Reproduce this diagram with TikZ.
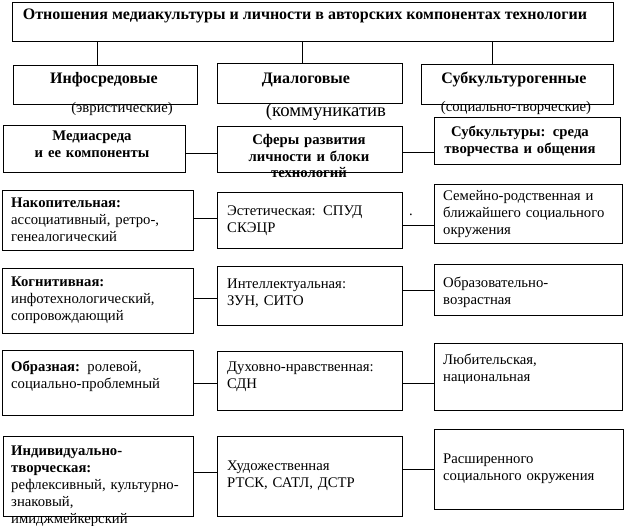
\documentclass[tikz,border=0pt]{standalone}
\usepackage{fontspec}
\setmainfont{Liberation Serif}
\tikzset{
	box/.style={draw, line width=1pt, inner sep=0pt, anchor=north west},
	head/.style={inner sep=0pt, anchor=base, align=center, font=\bfseries\fontsize{16}{19}\selectfont},
	subhead/.style={inner sep=0pt, anchor=base, align=center, text width=175pt, font=\bfseries\fontsize{14.7}{16.5}\selectfont},
	note/.style={inner sep=0pt, anchor=base, font=\fontsize{14.7}{17}\selectfont},
	body/.style={inner sep=0pt, anchor=base west, align=left, text width=#1, font=\fontsize{14.7}{17}\selectfont},
	body/.default=185pt,
	link/.style={line width=1pt}
}
\begin{document}
\begin{tikzpicture}[x=1pt, y=-1pt]
\useasboundingbox (0,0) rectangle (626,526);
% boxes: name / left / top / right / bottom
\foreach \n/\xa/\ya/\xb/\yb in {
	title/12/2/613/41,
	inf/13/65/197/104, dia/217/63/402/103, sub/421/64/613/104,
	med/3/125/185/172, sfe/217/126/402/172, sku/434/117/620/164,
	nak/2/190/193/250, est/217/192/402/248, sem/434/184/622/243,
	kog/2/268/193/333, int/217/266/402/325, obr/434/264/622/315,
	obz/2/350/193/415, duh/217/351/402/410, lub/434/343/622/410,
	ind/3/436/193/516, hud/217/436/402/516, ras/434/429/623/509} {
	\node[box, minimum width={(\xb-\xa)*1pt}, minimum height={(\yb-\ya)*1pt}] (\n) at (\xa,\ya) {};
}
% top level
\node[head] (titleT) at (305,20) {Отношения медиакультуры и личности в авторских компонентах технологии};
\node[head] (infT) at (104,84) {Инфосредовые};
\node[head] (diaT) at (306,84) {Диалоговые};
\node[head] (subT) at (514,84) {Субкультурогенные};
\node[note] (infN) at (122,113) {(эвристические)};
\node[note, font=\fontsize{18.7}{20}\selectfont] (diaN) at (326,117) {(коммуникатив};
\node[note] (subN) at (516,112) {(социально-творческие)};
\foreach \b/\dx in {inf/-8, dia/-7.5, sub/-25}
	\draw[link] ([xshift=\dx pt]\b.north) -- ([xshift=\dx pt]\b.north |- title.south);
% second level
\node[subhead] (medT) at (92,141) {Медиасреда\\и ее компоненты};
\node[subhead] (sfeT) at (309,145) {Сферы развития\\личности и блоки\\технологий};
\node[subhead] (skuT) at (520,137) {Субкультуры: среда\\творчества и общения};
% rows
\node[body] (nakT) at (11,208) {\textbf{Накопительная:}\\ассоциативный, ретро-,\\генеалогический};
\node[body] (estT) at (227,216) {Эстетическая: СПУД\\СКЭЦР};
\node[body] (semT) at (443,201) {Семейно-родственная и\\ближайшего социального\\окружения};
\node[note] (dot) at (411,216) {.};
\node[body] (kogT) at (11,287) {\textbf{Когнитивная:}\\инфотехнологический,\\сопровождающий};
\node[body] (intT) at (227,289) {Интеллектуальная:\\ЗУН, СИТО};
\node[body] (obrT) at (443,288) {Образовательно-\\возрастная};
\node[body] (obzT) at (11,371) {\textbf{Образная:} ролевой,\\социально-проблемный};
\node[body] (duhT) at (227,371) {Духовно-нравственная:\\СДН};
\node[body] (lubT) at (443,364) {Любительская,\\национальная};
\node[body] (indT) at (11,455) {\textbf{Индивидуально-}\\\textbf{творческая:}\\рефлексивный, культурно-\\знаковый,\\имиджмейкерский};
\node[body] (hudT) at (227,470) {Художественная\\РТСК, САТЛ, ДСТР};
\node[body] (rasT) at (443,463) {Расширенного\\социального окружения};
\foreach \a/\b/\y in {med/sfe/154, sfe/sku/153, nak/est/219, est/sem/226, kog/int/299, int/obr/291, obz/duh/383, duh/lub/383, ind/hud/472, hud/ras/469}
	\draw[link] (\a.east |- 0,\y) -- (\b.west |- 0,\y);
\end{tikzpicture}
\end{document}
